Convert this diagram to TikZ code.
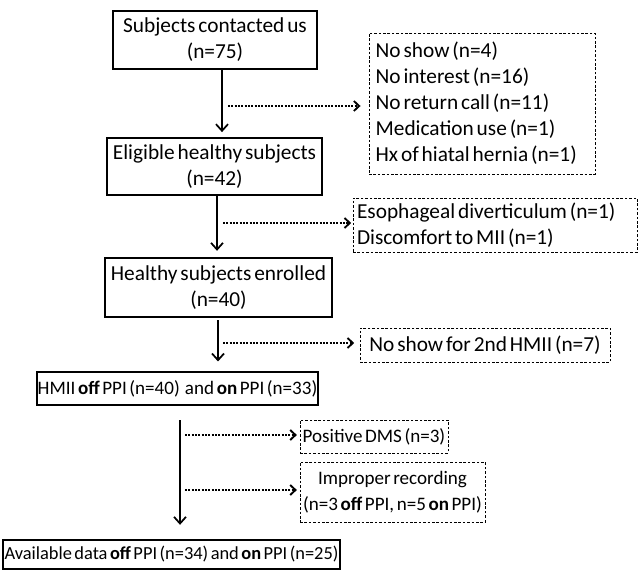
\documentclass[tikz,border=0pt]{standalone}
\usepackage{fontspec}
\setmainfont{Carlito}[WordSpace=0.6]
\usetikzlibrary{arrows.meta}
\begin{document}
\begin{tikzpicture}[x=0.75pt,y=-0.75pt,
  big/.style={font=\fontsize{16}{19.5}\selectfont},
  small/.style={font=\fontsize{14.3}{19.5}\selectfont},
  box/.style={draw,line width=0.8pt,align=center,inner sep=0pt},
  dbox/.style={draw,line width=0.7pt,dash pattern=on 2pt off 1.3pt,inner sep=0pt},
  flow/.style={line width=1.6pt,-{Straight Barb[length=5pt,width=9pt,line width=1.3pt]}},
  drop/.style={line width=2pt,dash pattern=on 1.4pt off 1.1pt,-{Straight Barb[length=4pt,width=7.5pt,line width=1.4pt]}}]
\useasboundingbox (0,0) rectangle (641,570);
% main boxes
\node[box,big,minimum width=153pt,minimum height=43.5pt] (b1) at (215,40) {Subjects contacted us\\(n=75)};
\node[box,big,minimum width=161.25pt,minimum height=42.75pt] (b2) at (214.5,166.5) {Eligible healthy subjects\\(n=42)};
\node[box,big,minimum width=170.25pt,minimum height=44.25pt] (b3) at (218.5,287.5) {Healthy subjects enrolled\\(n=40)};
\node[box,small,minimum width=210.75pt,minimum height=24.75pt] (b4) at (177.5,388.5) {HMII \textbf{off} PPI (n=40)\ \ and \textbf{on} PPI (n=33)};
\node[box,font=\fontsize{13.8}{16}\selectfont,minimum width=252.75pt,minimum height=21.75pt] (b5) at (171.5,554.5) {Available data \textbf{off} PPI (n=34) and \textbf{on} PPI (n=25)};
% exclusion boxes
\node[dbox,big,minimum width=169.5pt,minimum height=105.75pt,text width=159.5pt,align=flush left,inner xsep=5pt] (d1) at (482,103.5)
  {No show (n=4)\\No interest (n=16)\\No return call (n=11)\\Medication use (n=1)\\Hx of hiatal hernia (n=1)};
\node[dbox,big,minimum width=213pt,minimum height=40.5pt,text width=207pt,align=flush left,inner xsep=3pt] (d2) at (495,225)
  {Esophageal diverticulum (n=1)\\Discomfort to MII (n=1)};
\node[dbox,big,minimum width=187.5pt,minimum height=25.5pt,align=center] (d3) at (485,345) {No show for 2nd HMII (n=7)};
\node[dbox,small,minimum width=111pt,minimum height=24.75pt,align=center] (d4) at (374,436.5) {Positive DMS (n=3)};
\node[dbox,small,minimum width=138.75pt,minimum height=45pt,align=center] (d5) at (392.5,492)
  {Improper recording\\(n=3 \textbf{off} PPI, n=5 \textbf{on} PPI)};
% x positions of the main arrows and starts of the side arrows
\coordinate (x1) at (222,0);
\coordinate (x2) at (217,0);
\coordinate (x3) at (218,0);
\coordinate (x4) at (180,0);
\coordinate (s1) at (228,106);
\coordinate (s2) at (223,223);
\coordinate (s3) at (223,343);
\coordinate (s4) at (185,435);
\coordinate (s5) at (185,490);
% main flow
\draw[flow,shorten >=4pt] (b1.south -| x1) -- (b2.north -| x1);
\draw[flow,shorten >=5pt] (b2.south -| x2) -- (b3.north -| x2);
\draw[flow,shorten <=2pt,shorten >=7.5pt] (b3.south -| x3) -- (b4.north -| x3);
\draw[flow,shorten <=11pt,shorten >=11pt] (b4.south -| x4) -- (b5.north -| x4);
% exclusions
\draw[drop,shorten >=6pt] (s1) -- (s1 -| d1.west);
\draw[drop,shorten >=1pt] (s2) -- (s2 -| d2.west);
\draw[drop,shorten >=4pt] (s3) -- (s3 -| d3.west);
\draw[drop,shorten >=2pt] (s4) -- (s4 -| d4.west);
\draw[drop,shorten >=2pt] (s5) -- (s5 -| d5.west);
\end{tikzpicture}
\end{document}
